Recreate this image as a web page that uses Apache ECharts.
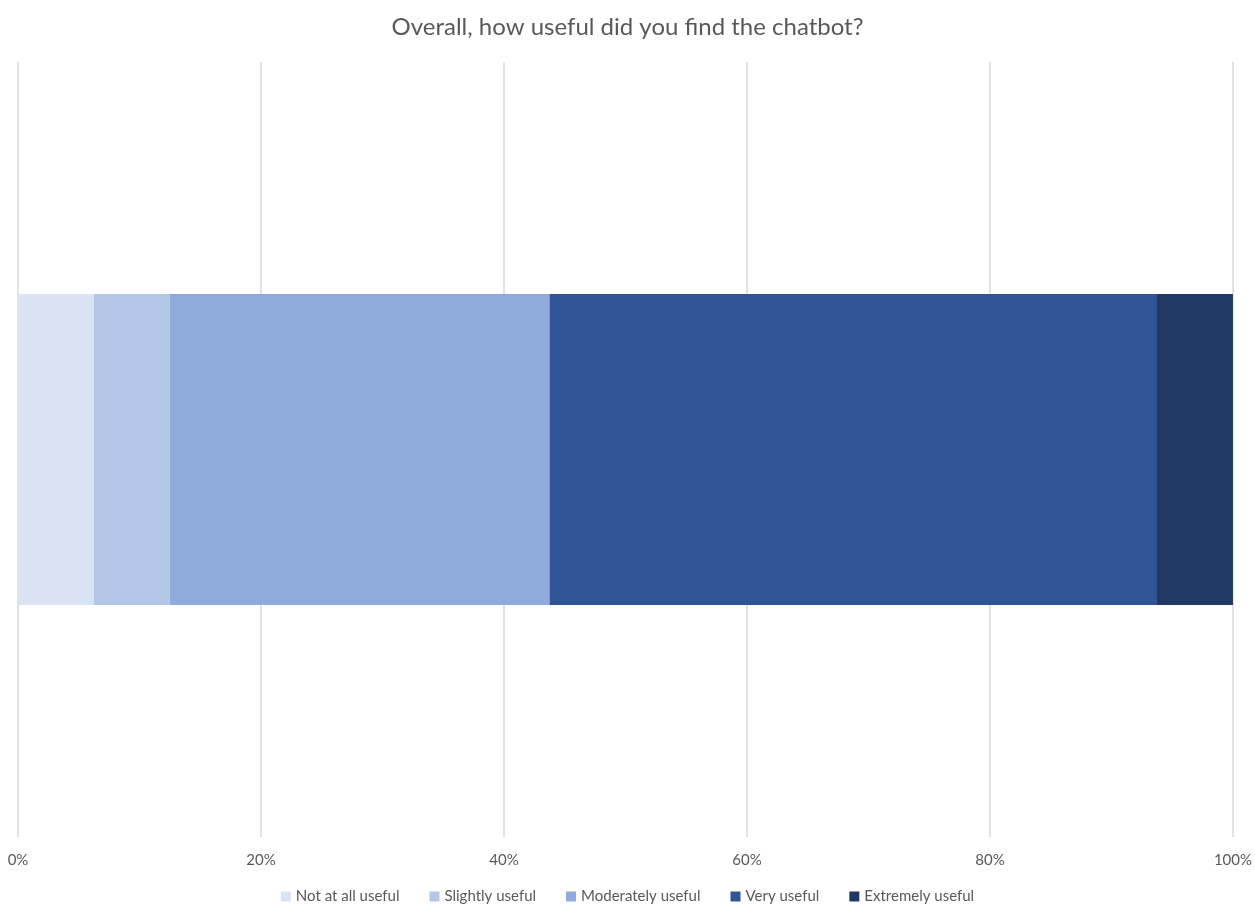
<!DOCTYPE html>
<html>
<head>
<meta charset="utf-8">
<script src="https://cdn.jsdelivr.net/npm/echarts@6/dist/echarts.min.js"></script>
<style>
html,body{margin:0;padding:0;background:#fff;}
#chart{width:1255px;height:906px;}
</style>
</head>
<body>
<div id="chart"></div>
<script>
const categories = ['Overall'];
const seriesNames = ['Not at all useful', 'Slightly useful', 'Moderately useful', 'Very useful', 'Extremely useful'];
const notAtAll = [6.25];
const slightly = [6.25];
const moderately = [31.25];
const very = [50];
const extremely = [6.25];
const colors = ['#DAE3F3', '#B4C7E7', '#8FAADC', '#2F5597', '#1F3864'];
const seriesData = [notAtAll, slightly, moderately, very, extremely];

const chart = echarts.init(document.getElementById('chart'));
const font = 'Lato, "Open Sans", sans-serif';
chart.setOption({
  animation: false,
  color: colors,
  title: {
    text: 'Overall, how useful did you find the chatbot?',
    left: 'center',
    top: 10,
    textStyle: { color: '#595959', fontSize: 24, fontWeight: 'normal', fontFamily: font }
  },
  legend: {
    bottom: 2,
    left: 'center',
    padding: 0,
    itemWidth: 10,
    itemHeight: 10,
    itemGap: 30,
    icon: 'rect',
    textStyle: { color: '#595959', fontSize: 15, fontFamily: font },
    data: seriesNames
  },
  grid: { left: 18, right: 21, top: 62, bottom: 69, containLabel: false },
  xAxis: {
    type: 'value',
    min: 0,
    max: 100,
    interval: 20,
    axisLine: { show: false },
    axisTick: { show: false },
    axisLabel: { formatter: '{value}%', color: '#595959', fontSize: 15, fontFamily: font, margin: 16 },
    splitLine: { show: true, lineStyle: { color: '#D9D9D9', width: 1.5 } }
  },
  yAxis: {
    type: 'category',
    data: categories,
    show: false
  },
  series: seriesNames.map((name, i) => ({
    name: name,
    type: 'bar',
    stack: 'total',
    barWidth: 311,
    data: seriesData[i],
    itemStyle: { color: colors[i] }
  }))
});
</script>
</body>
</html>
